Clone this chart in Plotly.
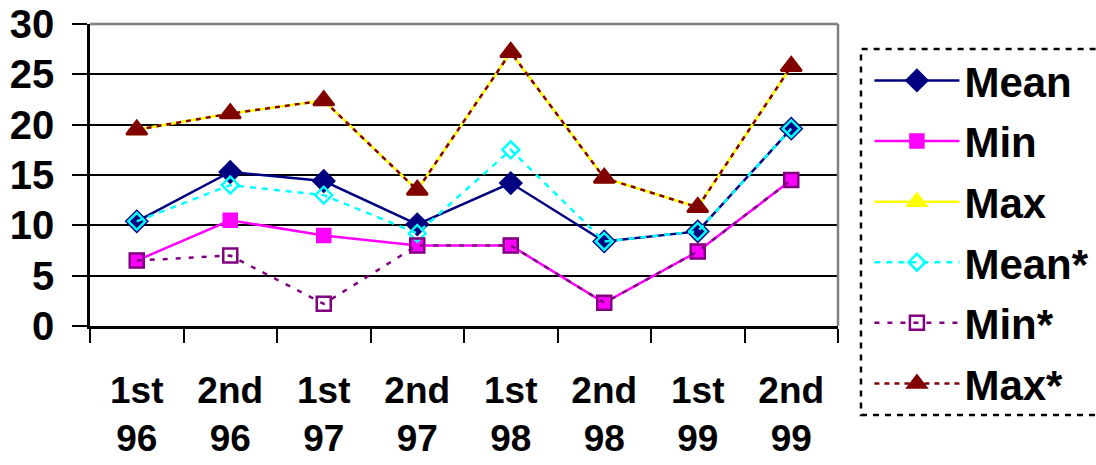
import plotly.graph_objects as go

periodos = ["1st<br>96", "2nd<br>96", "1st<br>97", "2nd<br>97",
            "1st<br>98", "2nd<br>98", "1st<br>99", "2nd<br>99"]

mean = [10.4, 15.3, 14.4, 10.1, 14.2, 8.4, 9.4, 19.6]
minimo = [6.5, 10.5, 9.0, 8.0, 8.0, 2.3, 7.4, 14.5]
maximo = [19.5, 21.1, 22.4, 13.5, 27.2, 14.7, 11.8, 25.8]
mean_b = [10.4, 14.0, 13.0, 9.2, 17.5, 8.4, 9.4, 19.6]
min_b = [6.5, 7.0, 2.2, 8.0, 8.0, 2.3, 7.4, 14.5]
max_b = [19.5, 21.1, 22.4, 13.5, 27.2, 14.7, 11.8, 25.8]

FUENTE = "Arial, Liberation Sans, sans-serif"


def agregar_serie(fig, valores, nombre, color, simbolo, tam, dash="solid", relleno=None):
    fig.add_trace(go.Scatter(
        x=periodos,
        y=valores,
        mode="lines+markers",
        name=nombre,
        legendgroup=nombre,
        line=dict(color=color, width=2.5, dash=dash),
        marker=dict(symbol=simbolo, size=tam, color=relleno or color,
                    line=dict(color=color, width=2.5))
    ))


fig = go.Figure()

agregar_serie(fig, mean, "Mean", "#000080", "diamond", 16)
agregar_serie(fig, minimo, "Min", "#FF00FF", "square", 13, relleno="#FF00FF")
agregar_serie(fig, maximo, "Max", "#FFFF00", "triangle-up", 17)
agregar_serie(fig, mean_b, "Mean*", "#00FFFF", "diamond-open", 13, dash="6px,6px")
agregar_serie(fig, min_b, "Min*", "#800080", "square-open", 14, dash="5px,8px")
agregar_serie(fig, max_b, "Max*", "#800000", "triangle-up", 18, dash="5px,5px")

# marco gris del área de trazado (arriba y derecha)
fig.add_shape(type="line", xref="paper", yref="paper", x0=0, x1=1, y0=1, y1=1,
              line=dict(color="#808080", width=2.5), layer="above")
fig.add_shape(type="line", xref="paper", yref="paper", x0=1, x1=1, y0=0, y1=1,
              line=dict(color="#808080", width=2.5), layer="above")

# borde punteado de la leyenda
fig.add_shape(type="rect", xref="paper", yref="paper",
              x0=1.0307, x1=1.36, y0=-0.295, y1=0.917,
              line=dict(color="black", width=2.5, dash="6px,6px"))

fig.update_layout(
    width=1096,
    height=465,
    margin=dict(l=90, r=258, t=24, b=139, autoexpand=False),
    paper_bgcolor="white",
    plot_bgcolor="white",
    font=dict(family=FUENTE, color="black", size=40, weight="bold"),
    showlegend=True,
    legend=dict(
        x=1.042, y=0.925, xanchor="left", yanchor="top",
        font=dict(family=FUENTE, size=42, weight="bold"),
        tracegroupgap=3,
        maxheight=440,
        itemwidth=85,
        bgcolor="rgba(0,0,0,0)",
        borderwidth=0
    ),
    xaxis=dict(
        type="category",
        automargin=False,
        tickson="boundaries",
        ticks="outside",
        ticklen=14,
        tickwidth=2,
        tickcolor="black",
        showline=True,
        linecolor="black",
        linewidth=2.5,
        showgrid=False,
        tickfont=dict(family=FUENTE, size=37, weight="bold"),
        ticklabelstandoff=30,
        range=[-0.5, 7.5]
    ),
    yaxis=dict(
        range=[0, 30],
        dtick=5,
        automargin=False,
        ticks="outside",
        ticklen=15,
        tickwidth=2,
        tickcolor="black",
        showline=True,
        linecolor="black",
        linewidth=2.5,
        showgrid=True,
        gridcolor="black",
        gridwidth=2,
        zeroline=False,
        tickfont=dict(family=FUENTE, size=40, weight="bold"),
        ticklabelstandoff=10
    )
)

fig.write_html("out.html", config={"displayModeBar": False},
               post_script="document.body.style.margin='0';")
